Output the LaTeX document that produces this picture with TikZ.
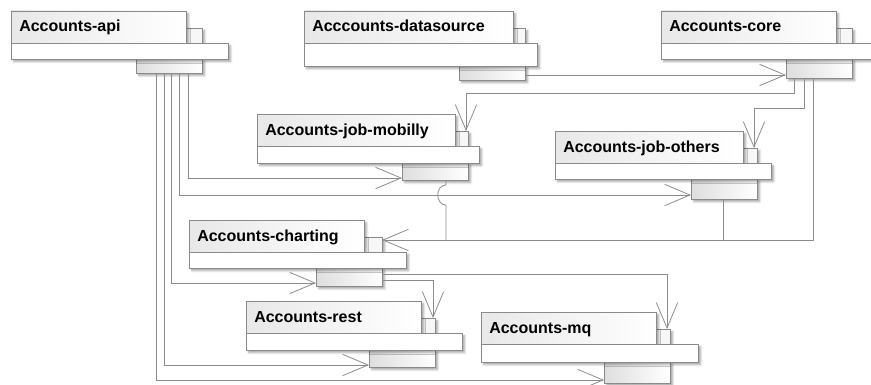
\documentclass[tikz,border=0pt]{standalone}
\usepackage{fontspec}
\newfontfamily\pkgfont{Liberation Sans}
\usetikzlibrary{arrows.meta,shadows.blur}

\definecolor{linegray}{HTML}{8C8C8C}
\definecolor{boxgray}{HTML}{8A8A8A}

\tikzset{
  pkgpart/.style={draw=boxgray, line width=0.6pt, inner sep=0pt, outer sep=0pt,
    blur shadow={shadow xshift=2pt, shadow yshift=-2pt, shadow blur radius=1.5pt, shadow opacity=35}},
  topbox/.style={pkgpart, minimum height=32*0.75pt, left color=black!9, right color=white},
  tabbox/.style={pkgpart, minimum height=15*0.75pt, fill=black!3},
  barbox/.style={pkgpart, fill=white},
  lowbox/.style={pkgpart, minimum width=66*0.75pt, left color=black!13, right color=white},
  pkglabel/.style={inner sep=0pt, font=\pkgfont\bfseries\fontsize{12pt}{14pt}\selectfont},
  dep/.style={draw=linegray, line width=0.6pt, -{Straight Barb[length=19pt, width=16pt]}},
  link/.style={draw=linegray, line width=0.6pt}
}

% #1 name, #2 x, #3 y, #4 width, #5 tab width, #6 bar extra, #7 bar height, #8 low height, #9 label
\newcommand{\umlpkg}[9]{%
  \node[lowbox, minimum height=#8*0.75pt, anchor=north east] (#1-low) at (#2+#4+#5, #3+32+#7) {};
  \node[tabbox, minimum width=#5*0.75pt, anchor=south west] (#1-tab) at (#2+#4, #3+32) {};
  \node[topbox, minimum width=#4*0.75pt, anchor=north west] (#1) at (#2, #3) {};
  \node[barbox, minimum width=(#4+#5+#6)*0.75pt, minimum height=#7*0.75pt, anchor=north west] (#1-bar) at (#2, #3+32) {};
  \node[pkglabel, anchor=base west] (#1-name) at (#2+8, #3+21) {#9};
}

\begin{document}
\begin{tikzpicture}[x=0.75pt, y=-0.75pt]
  \useasboundingbox (0,0) rectangle (871,385);

  % packages
  \umlpkg{api}{11}{11}{175}{16}{26}{16}{14}{Accounts-api}
  \umlpkg{ds}{304}{11}{209}{12}{12}{23}{14}{Acccounts-datasource}
  \umlpkg{core}{661}{11}{175}{16}{40}{16}{19}{Accounts-core}
  \umlpkg{mobilly}{257}{114}{198}{13}{11}{17}{17}{Accounts-job-mobilly}
  \umlpkg{others}{555}{131}{188}{14}{14}{16}{20}{Accounts-job-others}
  \umlpkg{charting}{189}{220}{175}{18}{24}{16}{18}{Accounts-charting}
  \umlpkg{rest}{246}{301}{175}{14}{27}{17}{17}{Accounts-rest}
  \umlpkg{mq}{481}{312}{175}{14}{28}{18}{21}{Accounts-mq}

  % datasource -> core
  \draw[dep] (ds-low.east |- 0,75) -- (core-low.west |- 0,75);

  % core -> jobs, charting
  \draw[dep] (core-low.south -| 794,0) |- (466,93) -- (mobilly-tab.north -| 466,0);
  \draw[dep] (core-low.south -| 804,0) |- (754,108) -- (others-tab.north -| 754,0);
  \draw[dep] (core-low.south -| 813,0) |- (charting-tab.east |- 0,240);
  \draw[link] (others-low.south -| 723,0) -- (723,240);
  \draw[link] (mobilly-low.south -| 446,0) -- (446,185)
    .. controls (435,185) and (435,205) .. (446,205) -- (446,240);

  % api -> others
  \foreach \x/\y/\t in {188/178/mobilly, 179/195/others, 171/283/charting, 164/365/rest, 156/380/mq}{
    \draw[dep] (api-low.south -| \x,0) |- (\t-low.west |- 0,\y);
  }

  % charting -> rest, mq
  \draw[dep] (charting-low.east |- 0,274) -| (mq-tab.north -| 667,0);
  \draw[dep] (charting-low.east |- 0,280) -| (rest-tab.north -| 433,0);
\end{tikzpicture}
\end{document}
